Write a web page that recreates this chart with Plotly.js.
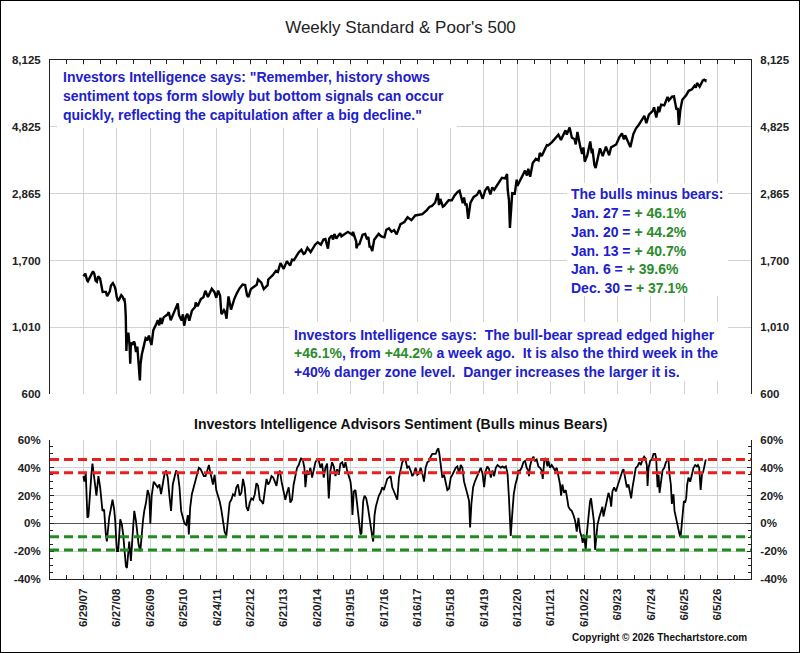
<!DOCTYPE html>
<html>
<head>
<meta charset="utf-8">
<script src="https://cdn.plot.ly/plotly-3.0.1.min.js"></script>
<style>
  html,body{margin:0;padding:0;background:#fff;}
  #plot{position:absolute;left:0;top:0;width:800px;height:653px;}
  #frame{position:absolute;left:0;top:0;width:800px;height:653px;box-sizing:border-box;border:1px solid #000;pointer-events:none;}
</style>
</head>
<body>
<div id="plot"></div>
<div id="frame"></div>
<script>
// ---------------- DATA ----------------
const tickDates = ['2007-06-29','2008-06-27','2009-06-26','2010-06-25','2011-06-24','2012-06-22','2013-06-21','2014-06-20','2015-06-19','2016-06-17','2017-06-16','2018-06-15','2019-06-14','2020-06-12','2021-06-11','2022-06-10','2023-06-09','2024-06-07','2025-06-06','2026-06-05'];
const tickLabels = ['6/29/07','6/27/08','6/26/09','6/25/10','6/24/11','6/22/12','6/21/13','6/20/14','6/19/15','6/17/16','6/16/17','6/15/18','6/14/19','6/12/20','6/11/21','6/10/22','6/9/23','6/7/24','6/6/25','6/5/26'];

const spTicks = [600, 1010, 1700, 2865, 4825, 8125];
const sentTicks = [-40, -20, 0, 20, 40, 60];
const redLevels = [46, 36.4];
const greenLevels = [-9.6, -19.2];

const bbDates = ['Jan. 27', 'Jan. 20', 'Jan. 13', 'Jan. 6', 'Dec. 30'];
const bbValues = [46.1, 44.2, 40.7, 39.6, 37.1];

// Weekly S&P 500
const spDates = ['2007-06-29','2007-07-20','2007-08-10','2007-08-17','2007-08-31','2007-09-28','2007-10-12','2007-10-26','2007-11-09','2007-11-23','2007-12-07','2007-12-28',
'2008-01-11','2008-01-25','2008-02-08','2008-02-29','2008-03-14','2008-03-28','2008-04-11','2008-04-25','2008-05-16','2008-05-30','2008-06-13','2008-06-27','2008-07-11','2008-07-25','2008-08-15','2008-08-29','2008-09-12','2008-09-19','2008-09-26','2008-10-03','2008-10-10','2008-10-17','2008-10-31','2008-11-14','2008-11-21','2008-11-28','2008-12-12','2008-12-31',
'2009-01-09','2009-01-23','2009-02-06','2009-02-20','2009-03-06','2009-03-13','2009-03-27','2009-04-17','2009-05-08','2009-05-29','2009-06-12','2009-07-10','2009-07-31','2009-08-28','2009-09-18','2009-10-02','2009-10-16','2009-10-30','2009-11-20','2009-12-31',
'2010-01-15','2010-02-05','2010-02-26','2010-03-26','2010-04-23','2010-05-07','2010-05-21','2010-06-04','2010-06-18','2010-07-02','2010-07-23','2010-08-06','2010-08-27','2010-09-24','2010-10-29','2010-11-05','2010-11-26','2010-12-31',
'2011-01-28','2011-02-18','2011-03-18','2011-04-29','2011-05-27','2011-06-17','2011-07-08','2011-07-29','2011-08-05','2011-08-12','2011-08-19','2011-09-09','2011-09-23','2011-10-07','2011-10-28','2011-11-25','2011-12-30',
'2012-01-27','2012-02-24','2012-03-30','2012-04-27','2012-05-18','2012-06-01','2012-06-29','2012-07-27','2012-08-31','2012-09-14','2012-10-19','2012-11-16','2012-12-28',
'2013-01-04','2013-02-22','2013-03-29','2013-04-19','2013-05-17','2013-06-21','2013-07-26','2013-08-30','2013-09-20','2013-10-11','2013-11-29','2013-12-31',
'2014-01-24','2014-02-07','2014-03-07','2014-04-11','2014-05-30','2014-06-27','2014-08-01','2014-08-29','2014-09-19','2014-10-17','2014-10-31','2014-11-28','2014-12-12','2014-12-26',
'2015-01-16','2015-02-27','2015-03-13','2015-05-22','2015-07-10','2015-07-17','2015-08-21','2015-08-24','2015-09-04','2015-09-25','2015-10-30','2015-11-27','2015-12-18','2015-12-31',
'2016-01-15','2016-01-22','2016-02-12','2016-03-04','2016-04-22','2016-05-20','2016-06-24','2016-07-15','2016-08-12','2016-09-09','2016-10-07','2016-11-04','2016-12-16',
'2017-01-27','2017-03-03','2017-04-14','2017-05-26','2017-06-30','2017-08-11','2017-09-29','2017-10-27','2017-11-24','2017-12-29',
'2018-01-26','2018-02-09','2018-02-23','2018-03-23','2018-04-06','2018-05-25','2018-06-29','2018-07-27','2018-08-31','2018-09-21','2018-10-26','2018-11-09','2018-11-23','2018-12-07','2018-12-24',
'2019-01-18','2019-02-22','2019-03-29','2019-04-26','2019-05-31','2019-06-28','2019-07-26','2019-08-23','2019-09-13','2019-10-04','2019-11-29','2019-12-27',
'2020-01-31','2020-02-21','2020-02-28','2020-03-13','2020-03-23','2020-04-03','2020-04-17','2020-05-15','2020-06-05','2020-06-12','2020-07-31','2020-09-04','2020-09-25','2020-10-09','2020-10-30','2020-11-27','2020-12-31',
'2021-01-29','2021-02-12','2021-03-05','2021-04-30','2021-05-14','2021-06-25','2021-07-30','2021-09-03','2021-10-01','2021-11-19','2021-12-03','2021-12-31',
'2022-01-03','2022-01-28','2022-02-25','2022-03-11','2022-03-29','2022-04-29','2022-05-20','2022-06-03','2022-06-17','2022-07-15','2022-08-16','2022-09-02','2022-09-09','2022-09-30','2022-10-14','2022-11-30','2022-12-30',
'2023-01-27','2023-02-03','2023-03-10','2023-03-31','2023-05-26','2023-06-30','2023-07-28','2023-08-18','2023-09-01','2023-10-27','2023-11-30','2023-12-29',
'2024-01-26','2024-02-29','2024-03-28','2024-04-19','2024-05-17','2024-06-28','2024-07-12','2024-08-05','2024-08-30','2024-09-06','2024-09-27','2024-10-31','2024-11-29','2024-12-06','2024-12-20',
'2025-01-24','2025-02-14','2025-03-13','2025-03-28','2025-04-08','2025-04-25','2025-05-16','2025-06-27','2025-07-25','2025-08-29','2025-09-26','2025-10-10','2025-10-24','2025-11-21','2025-12-12','2025-12-26',
'2026-01-09','2026-01-23','2026-01-27'];
const spValues = [1503,1534,1453,1445,1474,1527,1562,1535,1453,1440,1504,1478,
1401,1330,1331,1331,1288,1315,1333,1398,1425,1400,1360,1278,1240,1258,1298,1283,1252,1255,1213,1100,840,940,968,873,760,896,879,903,
890,832,869,770,667,756,816,870,929,919,946,879,987,1029,1068,1025,1087,1036,1091,1115,
1136,1066,1104,1166,1217,1110,1087,1064,1117,1022,1102,1121,1064,1148,1183,1225,1189,1258,
1276,1343,1279,1364,1331,1271,1344,1292,1199,1120,1124,1154,1136,1080,1285,1159,1258,
1316,1366,1408,1403,1295,1278,1362,1386,1407,1466,1433,1360,1402,
1466,1516,1569,1555,1667,1593,1692,1633,1710,1704,1806,1848,
1790,1797,1878,1816,1924,1961,1925,2003,2011,1865,2018,2068,2002,2089,
2019,2105,2053,2126,2077,2127,1971,1870,1921,1931,2079,2090,2005,2044,
1880,1906,1829,1999,2092,2052,2037,2161,2184,2128,2153,2085,2258,
2295,2383,2329,2416,2423,2441,2519,2581,2602,2674,
2873,2620,2747,2588,2604,2721,2718,2819,2902,2930,2658,2781,2633,2633,2351,
2671,2793,2834,2940,2752,2942,3026,2847,3007,2952,3141,3240,
3226,3338,2954,2711,2192,2489,2875,2864,3194,3041,3271,3427,3298,3477,3270,3638,3756,
3714,3934,3842,4181,4174,4281,4395,4535,4357,4698,4538,4766,
4796,4432,4385,4204,4632,4132,3901,4109,3675,3863,4305,3924,4067,3586,3500,4080,3840,
4070,4136,3862,4109,4205,4450,4582,4370,4515,4117,4568,4770,
4891,5096,5254,4967,5303,5460,5615,5186,5648,5408,5738,5705,6032,6090,5930,
6101,6115,5521,5581,4900,5525,5958,6173,6389,6460,6644,6552,6791,6603,6827,6930,
6966,6915,7000];

// Investors Intelligence bulls minus bears (%)
const sentDates = ['2007-06-29','2007-07-10','2007-07-25','2007-08-12','2007-08-23','2007-09-06','2007-09-25','2007-10-06','2007-10-24','2007-11-18','2007-12-10','2007-12-29',
'2008-01-23','2008-02-10','2008-02-29','2008-03-11','2008-04-05','2008-04-23','2008-05-12','2008-05-30','2008-06-10','2008-06-28','2008-07-13','2008-08-04','2008-08-22','2008-09-05','2008-09-16','2008-10-05','2008-10-16','2008-10-30','2008-11-10','2008-11-28','2008-12-17',
'2009-01-04','2009-01-22','2009-02-20','2009-03-11','2009-03-25','2009-04-09','2009-04-23','2009-05-12','2009-05-30','2009-06-17','2009-06-28','2009-07-13','2009-08-04','2009-08-22','2009-09-16','2009-10-05','2009-10-23','2009-11-10','2009-11-28','2009-12-17',
'2010-01-04','2010-01-22','2010-02-09','2010-02-28','2010-03-18','2010-04-05','2010-04-23','2010-05-12','2010-05-30','2010-06-17','2010-07-05','2010-07-24','2010-08-11','2010-08-22','2010-09-05','2010-09-24','2010-10-12','2010-10-30','2010-11-17','2010-12-09','2010-12-28',
'2011-01-15','2011-02-02','2011-02-20','2011-03-18','2011-03-29','2011-04-09','2011-04-23','2011-05-12','2011-05-30','2011-06-17','2011-07-05','2011-07-24','2011-08-11','2011-08-29','2011-09-16','2011-10-05','2011-10-23','2011-11-10','2011-11-28','2011-12-17',
'2012-01-04','2012-01-22','2012-02-09','2012-02-28','2012-03-17','2012-04-04','2012-04-22','2012-05-11','2012-05-29','2012-06-16','2012-07-04','2012-07-23','2012-08-10','2012-08-28','2012-09-15','2012-10-04','2012-10-22','2012-11-09','2012-11-27','2012-12-16',
'2013-01-03','2013-01-21','2013-02-08','2013-02-27','2013-03-17','2013-04-04','2013-04-22','2013-05-11','2013-05-29','2013-06-16','2013-07-09','2013-07-27','2013-08-15','2013-09-02','2013-09-20','2013-10-08','2013-10-27','2013-11-14','2013-12-02','2013-12-27',
'2014-01-18','2014-02-02','2014-02-13','2014-03-03','2014-03-21','2014-04-08','2014-04-27','2014-05-15','2014-06-02','2014-06-20','2014-07-09','2014-07-27','2014-08-14','2014-09-01','2014-09-19','2014-10-08','2014-10-26','2014-11-13','2014-12-01','2014-12-19',
'2015-01-07','2015-01-25','2015-02-12','2015-03-02','2015-03-21','2015-04-08','2015-04-26','2015-05-14','2015-06-01','2015-06-20','2015-07-01','2015-07-11','2015-07-26','2015-08-13','2015-08-31','2015-09-19','2015-10-07','2015-10-18','2015-11-05','2015-11-20','2015-12-08','2015-12-26',
'2016-01-10','2016-01-24','2016-02-11','2016-02-22','2016-03-08','2016-03-22','2016-04-06','2016-04-24','2016-05-12','2016-05-31','2016-06-18','2016-07-06','2016-07-24','2016-08-12','2016-08-30','2016-09-17','2016-10-05','2016-10-23','2016-11-11','2016-11-29','2016-12-17',
'2017-01-04','2017-01-22','2017-02-10','2017-02-28','2017-03-18','2017-04-05','2017-04-24','2017-05-12','2017-05-30','2017-06-17','2017-07-05','2017-07-24','2017-08-11','2017-08-29','2017-09-16','2017-10-05','2017-10-23','2017-11-10','2017-11-28','2017-12-16',
'2018-01-04','2018-01-22','2018-02-02','2018-02-13','2018-02-27','2018-03-17','2018-04-05','2018-04-23','2018-05-11','2018-05-29','2018-06-17','2018-07-05','2018-07-23','2018-08-10','2018-08-28','2018-09-16','2018-10-04','2018-10-22','2018-11-09','2018-11-28','2018-12-16',
'2019-01-03','2019-01-14','2019-01-28','2019-02-16','2019-03-06','2019-03-24','2019-04-11','2019-04-29','2019-05-10','2019-05-29','2019-06-16','2019-07-04','2019-07-22','2019-08-09','2019-08-28','2019-09-15','2019-10-03','2019-10-21','2019-11-09','2019-11-27','2019-12-15',
'2020-01-02','2020-01-20','2020-02-08','2020-02-26','2020-03-13','2020-03-24','2020-04-01','2020-04-20','2020-05-04','2020-05-22','2020-06-12','2020-06-23','2020-07-11','2020-07-29','2020-08-17','2020-09-04','2020-09-22','2020-10-10','2020-10-17','2020-10-28','2020-11-16','2020-12-04','2020-12-22',
'2021-01-09','2021-01-27','2021-02-15','2021-03-05','2021-03-16','2021-04-03','2021-04-17','2021-05-06','2021-05-17','2021-06-04','2021-06-22','2021-07-10','2021-07-28','2021-08-16','2021-09-03','2021-09-21','2021-10-02','2021-10-16','2021-11-04','2021-11-22','2021-12-10','2021-12-21',
'2022-01-08','2022-01-26','2022-02-14','2022-03-04','2022-03-22','2022-04-09','2022-04-27','2022-05-16','2022-05-26','2022-06-03','2022-06-14','2022-06-28','2022-07-09','2022-07-27','2022-08-14','2022-08-25','2022-09-09','2022-09-24','2022-10-08','2022-10-19','2022-11-03','2022-11-21','2022-12-09','2022-12-27',
'2023-01-07','2023-01-25','2023-02-13','2023-03-03','2023-03-21','2023-04-01','2023-04-15','2023-05-04','2023-05-22','2023-06-09','2023-06-27','2023-07-15','2023-08-03','2023-08-14','2023-09-01','2023-09-19','2023-10-07','2023-10-25','2023-11-05','2023-11-20','2023-12-08','2023-12-26',
'2024-01-13','2024-02-01','2024-02-19','2024-03-08','2024-03-26','2024-04-06','2024-04-24','2024-05-02','2024-05-13','2024-05-31','2024-06-18','2024-07-06','2024-07-24','2024-08-04','2024-08-19','2024-08-30','2024-09-10','2024-09-24','2024-10-12','2024-10-31','2024-11-18','2024-12-06','2024-12-17','2024-12-28',
'2025-01-11','2025-01-22','2025-02-09','2025-02-20','2025-03-07','2025-03-21','2025-04-05','2025-04-16','2025-04-27','2025-05-11','2025-05-22','2025-06-02','2025-06-16','2025-06-27','2025-07-08','2025-07-23','2025-08-10','2025-08-28','2025-09-15','2025-10-04','2025-10-22','2025-11-02','2025-11-16','2025-12-02','2025-12-16','2025-12-30',
'2026-01-06','2026-01-13','2026-01-20','2026-01-27'];
const sentValues = [34,30,36,4,5,20,36,43,33,20,34,26,
9,10,-8,-13,4,12,17,10,2,-20,-20,3,-1,-8,-15,-31,-32,-22,-13,-27,-8,
9,2,-15,-20,-8,2,9,15,24,20,0,20,30,28,26,28,21,28,35,38,
33,20,9,28,34,38,36,26,9,5,0,-1,6,-8,11,21,26,30,36,40,39,
37,34,34,41,42,38,33,28,35,24,20,16,10,3,-6,-9,2,15,17,21,
20,26,28,20,22,32,26,12,9,15,18,17,21,29,27,17,16,14,23,32,
28,30,34,33,30,27,35,38,30,24,17,22,26,15,17,28,35,40,42,47,
45,40,26,38,35,40,33,38,44,46,45,40,43,33,40,43,18,38,44,41,
34,39,35,43,44,40,44,38,34,30,23,6,23,24,14,4,-8,-7,16,20,18,12,
4,-1,-9,-13,6,12,16,20,22,26,24,28,32,33,34,26,23,21,17,33,40,
44,46,45,40,41,38,34,36,40,35,36,40,36,30,40,44,45,48,50,50,
50,53,54,50,40,33,35,28,24,25,33,35,38,40,41,36,42,40,30,26,21,
16,-3,14,26,30,33,35,38,40,36,26,38,41,39,33,38,34,40,42,41,40,
41,40,41,36,18,-7,-9,9,21,28,33,38,38,40,44,45,40,38,34,41,46,48,45,
46,41,40,38,32,46,47,41,45,40,42,40,38,40,35,28,20,28,22,24,17,12,
10,9,6,2,-6,4,-6,-10,-14,-8,-11,-19,-8,6,16,18,11,2,-19,-13,-1,4,8,12,
5,10,16,22,18,12,23,26,23,27,30,34,38,39,33,26,28,22,18,26,35,40,
41,44,42,46,48,47,42,27,40,45,46,50,50,47,26,35,22,30,38,40,44,46,45,35,
28,14,21,9,4,-1,-6,-8,-10,2,9,16,15,18,28,33,30,35,40,42,41,42,40,24,35,37.1,
39.6,40.7,44.2,46.1];

// ---------------- STYLE / LAYOUT ----------------
const F = 'Liberation Sans, Arial, Helvetica, sans-serif';
const BLUE = '#2020cc', GREEN = '#2b8c2b', RED = '#e82020', DGREEN = '#1e8c1e';
const GRID = '#d2d2d2', AX = '#222';
const W = 800, H = 653, ML = 50, MR = 49, MT = 60, MB = 74;
const PW = W - ML - MR, PH = H - MT - MB;
const px = v => (v - ML) / PW;
const py = v => (H - MB - v) / PH;

const xRange = ['2006-06-30', '2027-06-04'];
const DAY = 864e5;
const minorDates = ['2006-06-30'].concat(tickDates).map(d => new Date(new Date(d + 'T00:00:00Z').getTime() + 182 * DAY).toISOString().slice(0, 10));
const minorPct = [-35,-30,-25,-15,-10,-5,5,10,15,25,30,35,45,50,55];

const fmt = v => v.toLocaleString('en-US');
const tickFont = {family: F, size: 11.5, color: AX, weight: 'bold'};
const logRange = [Math.log10(spTicks[0]), Math.log10(spTicks[spTicks.length - 1])];

const traces = [
  {x: spDates, y: spValues, xaxis: 'x', yaxis: 'y', type: 'scatter', mode: 'lines',
   line: {color: '#000', width: 2.4}, hoverinfo: 'skip', showlegend: false},
  {x: [spDates[0]], y: [spValues[0]], xaxis: 'x', yaxis: 'y2', type: 'scatter', mode: 'lines',
   line: {color: 'rgba(0,0,0,0)', width: 0}, hoverinfo: 'skip', showlegend: false},
  {x: sentDates, y: sentValues, xaxis: 'x2', yaxis: 'y3', type: 'scatter', mode: 'lines',
   line: {color: '#000', width: 1.8}, hoverinfo: 'skip', showlegend: false},
  {x: [sentDates[0]], y: [sentValues[0]], xaxis: 'x2', yaxis: 'y4', type: 'scatter', mode: 'lines',
   line: {color: 'rgba(0,0,0,0)', width: 0}, hoverinfo: 'skip', showlegend: false}
];

const topDomain = [py(394), 1];
const botDomain = [0, py(440)];

const shapes = [];
// white boxes behind the commentary text
[[57, 65, 457, 128], [567, 183, 728, 296], [289, 322, 728, 381]].forEach(b => {
  shapes.push({type: 'rect', xref: 'paper', yref: 'paper', x0: px(b[0]), x1: px(b[2]), y0: py(b[3]), y1: py(b[1]),
    fillcolor: '#fff', line: {width: 0}, layer: 'above'});
});
redLevels.forEach(v => shapes.push({type: 'line', xref: 'paper', yref: 'y3', x0: 0, x1: 1, y0: v, y1: v,
  line: {color: RED, width: 3, dash: '9px,5px'}, layer: 'above'}));
greenLevels.forEach(v => shapes.push({type: 'line', xref: 'paper', yref: 'y3', x0: 0, x1: 1, y0: v, y1: v,
  line: {color: DGREEN, width: 3, dash: '9px,5px'}, layer: 'above'}));

const ann = [];
function txt(t, x, y, opts) {
  ann.push(Object.assign({text: t, xref: 'paper', yref: 'paper', x: px(x), y: py(y), xanchor: 'left', yanchor: 'middle',
    showarrow: false, borderpad: 0, font: {family: F, size: 14, color: BLUE, weight: 'bold'}}, opts || {}));
}
const g = s => '<span style="color:' + GREEN + '">' + s + '</span>';
const NB = '\u00a0';

const quote = ['Investors Intelligence says: "Remember, history shows',
  'sentiment tops form slowly but bottom signals can occur',
  'quickly, reflecting the capitulation after a big decline."'];
quote.forEach((t, i) => txt(t, 62, 77 + 19 * i));

txt('The bulls minus bears:', 570, 194);
bbDates.forEach((d, i) => txt(d + ' = ' + g('+ ' + bbValues[i].toFixed(1) + '%'), 570, 213 + 18.8 * i));

txt('Investors Intelligence says:' + NB + NB + 'The bull-bear spread edged higher', 293, 335);
txt(g('+' + bbValues[0].toFixed(1) + '%') + ', from ' + g('+' + bbValues[1].toFixed(1) + '%') + ' a week ago.' + NB + NB + 'It is also the third week in the', 293, 353.5);
txt('+40% danger zone level.' + NB + NB + 'Danger increases the larger it is.', 293, 372);

ann.push({text: 'Investors Intelligence Advisors Sentiment (Bulls minus Bears)', xref: 'paper', yref: 'paper',
  x: px(400), y: py(424), xanchor: 'center', yanchor: 'middle', showarrow: false,
  font: {family: F, size: 14, color: '#111', weight: 'bold'}});
ann.push({text: 'Copyright \u00a9 2026 Thechartstore.com', xref: 'paper', yref: 'paper',
  x: px(749), y: py(637), xanchor: 'right', yanchor: 'middle', showarrow: false,
  font: {family: F, size: 10, color: '#111', weight: 'bold'}});

const layout = {
  width: W, height: H,
  margin: {l: ML, r: MR, t: MT, b: MB, pad: 0},
  paper_bgcolor: '#fff', plot_bgcolor: '#fff',
  showlegend: false,
  title: {text: "Weekly Standard &amp; Poor's 500", x: 0.5, xanchor: 'center', xref: 'paper',
    y: 1 - 27 / H, yref: 'container', yanchor: 'middle',
    font: {family: F, size: 17, color: '#222'}},
  xaxis: {domain: [0, 1], anchor: 'y', type: 'date', range: xRange, side: 'top',
    tickmode: 'array', tickvals: tickDates, showticklabels: false,
    ticks: 'inside', ticklen: 4, tickcolor: AX, showline: true, linecolor: AX, linewidth: 1,
    showgrid: true, gridcolor: GRID, gridwidth: 1, zeroline: false, fixedrange: true,
    minor: {tickmode: 'array', tickvals: minorDates, ticks: 'inside', ticklen: 4, tickcolor: AX, showgrid: false}},
  yaxis: {domain: topDomain, anchor: 'x', type: 'log', range: logRange,
    tickmode: 'array', tickvals: spTicks, ticktext: spTicks.map(fmt),
    showline: true, linecolor: AX, linewidth: 1, ticks: '', showgrid: true, gridcolor: GRID,
    zeroline: false, tickfont: tickFont, ticklabelstandoff: 6, fixedrange: true},
  yaxis2: {overlaying: 'y', anchor: 'x', side: 'right', type: 'log', range: logRange,
    tickmode: 'array', tickvals: spTicks, ticktext: spTicks.map(fmt),
    showline: true, linecolor: AX, linewidth: 1, ticks: '', showgrid: false,
    zeroline: false, tickfont: tickFont, ticklabelstandoff: 6, fixedrange: true},
  xaxis2: {domain: [0, 1], anchor: 'y3', type: 'date', range: xRange,
    tickmode: 'array', tickvals: tickDates, ticktext: tickLabels, tickangle: -90,
    ticks: 'inside', ticklen: 4, tickcolor: AX, showline: true, linecolor: AX, linewidth: 1,
    showgrid: true, gridcolor: GRID, zeroline: false, tickfont: tickFont, ticklabelstandoff: 4, fixedrange: true,
    minor: {tickmode: 'array', tickvals: minorDates, ticks: 'inside', ticklen: 4, tickcolor: AX, showgrid: false}},
  yaxis3: {domain: botDomain, anchor: 'x2', range: [sentTicks[0], sentTicks[sentTicks.length - 1]],
    tickmode: 'array', tickvals: sentTicks, ticktext: sentTicks.map(v => v + '%'),
    showline: true, linecolor: AX, linewidth: 1, ticks: 'inside', ticklen: 4, tickcolor: AX,
    showgrid: true, gridcolor: GRID, zeroline: true, zerolinecolor: '#555', zerolinewidth: 1,
    tickfont: tickFont, ticklabelstandoff: 6, fixedrange: true,
    minor: {tickmode: 'array', tickvals: minorPct, ticks: 'inside', ticklen: 3, tickcolor: AX, showgrid: false}},
  yaxis4: {overlaying: 'y3', anchor: 'x2', side: 'right', range: [sentTicks[0], sentTicks[sentTicks.length - 1]],
    tickmode: 'array', tickvals: sentTicks, ticktext: sentTicks.map(v => v + '%'),
    showline: true, linecolor: AX, linewidth: 1, ticks: 'inside', ticklen: 4, tickcolor: AX,
    showgrid: false, zeroline: false, tickfont: tickFont, ticklabelstandoff: 6, fixedrange: true,
    minor: {tickmode: 'array', tickvals: minorPct, ticks: 'inside', ticklen: 3, tickcolor: AX, showgrid: false}},
  shapes: shapes,
  annotations: ann
};

Plotly.newPlot('plot', traces, layout, {staticPlot: true, displayModeBar: false});
</script>
</body>
</html>
